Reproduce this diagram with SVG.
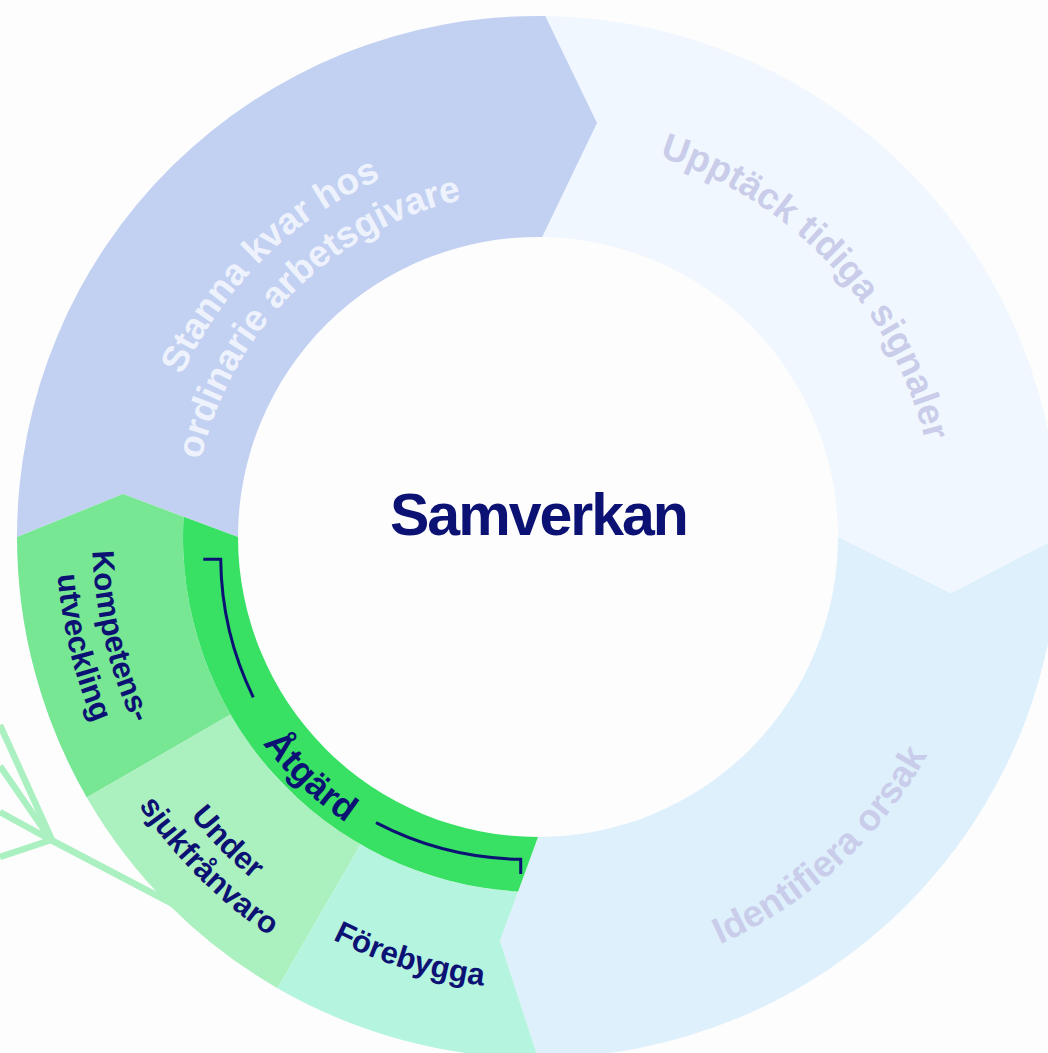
<svg xmlns="http://www.w3.org/2000/svg" xmlns:xlink="http://www.w3.org/1999/xlink" width="1048" height="1053" viewBox="0 0 1048 1053">
<style>
  text { font-family: "Liberation Sans", Arial, "Noto Sans", sans-serif; font-weight: bold; }
  .big { font-size: 37px; }
  .grn { font-size: 31px; fill: #0b1273; }
  .stanna-t { fill: #eef2fc; }
  .pale-t { fill: #c9cdea; }
  .deco { stroke: #aaf0c0; stroke-width: 6.5; fill: none; }
  .bracket { stroke: #0b1273; stroke-width: 3; fill: none; }
</style>
<defs>
  <path id="pStanna1" d="M 216.2 759.0 A 391 391 0 0 1 764.5 218.3"/>
  <path id="pStanna2" d="M 254.6 734.7 A 345.5 345.5 0 0 1 736.7 254.3"/>
  <path id="pUpptack" d="M 320.1 202.8 A 399 399 0 0 1 857.1 776.6"/>
  <path id="pIdent" d="M 265.9 890.4 A 446 446 0 0 0 914.6 298.0"/>
  <path id="pKomp1" d="M 361.6 127.4 A 446 446 0 0 0 563.7 982.2"/>
  <path id="pKomp2" d="M 345.1 95.3 A 482 482 0 0 0 568.3 1018.0"/>
  <path id="pUnder1" d="M 174.9 278.0 A 446 446 0 0 0 790.6 904.5"/>
  <path id="pUnder2" d="M 144.0 261.1 A 481 481 0 0 0 813.9 931.0"/>
  <path id="pForeb" d="M 89.4 481.9 A 452 452 0 0 0 940.7 742.2"/>
  <path id="pAtgard" d="M 251.1 347.1 A 344 344 0 0 0 742.6 813.5"/>
</defs>
<rect width="1048" height="1053" fill="#fdfdfd"/>

<g id="decoration">
  <line class="deco" x1="0" y1="725" x2="52" y2="840"/>
  <line class="deco" x1="0" y1="766" x2="51" y2="840"/>
  <line class="deco" x1="0" y1="812" x2="51" y2="840"/>
  <line class="deco" x1="51" y1="840" x2="0" y2="857"/>
  <line class="deco" x1="51" y1="840" x2="215" y2="926"/>
</g>

<g id="identifiera">
  <path d="M 1059 537 A 521 521 0 0 1 538 1058 L 500 941 L 538 837 A 300 300 0 0 0 838 537 L 951 593 Z" fill="#dff0fd"/>
  <text class="big pale-t"><textPath href="#pIdent" startOffset="50%" text-anchor="middle">Identifiera orsak</textPath></text>
</g>

<g id="upptack">
  <path d="M 545.3 16 A 521 521 0 0 1 1059 537 L 951 593 L 838 537 A 300 300 0 0 0 542.2 237 L 597 123 Z" fill="#f0f7fe"/>
  <text class="big pale-t"><textPath href="#pUpptack" startOffset="50%" text-anchor="middle">Upptäck tidiga signaler</textPath></text>
</g>

<g id="stanna">
  <path d="M 17 537 A 521 521 0 0 1 545.3 16 L 597 123 L 542.2 237 A 300 300 0 0 0 238 537 L 123 494 Z" fill="#c2d0f2"/>
  <text class="big stanna-t"><textPath href="#pStanna1" startOffset="50%" text-anchor="middle">Stanna kvar hos</textPath></text>
  <text class="big stanna-t"><textPath href="#pStanna2" startOffset="50%" text-anchor="middle">ordinarie arbetsgivare</textPath></text>
</g>

<g id="kompetensutveckling">
  <path d="M 86.8 797.5 A 521 521 0 0 1 17 537 L 123 494 L 183.6 516.7 A 355 355 0 0 0 230.6 714.5 Z" fill="#78e794"/>
  <text class="grn"><textPath href="#pKomp1" startOffset="50%" text-anchor="middle">Kompetens-</textPath></text>
  <text class="grn"><textPath href="#pKomp2" startOffset="50%" text-anchor="middle">utveckling</textPath></text>
</g>

<g id="under-sjukfranvaro">
  <path d="M 277.5 988.2 A 521 521 0 0 1 86.8 797.5 L 230.6 714.5 A 355 355 0 0 0 360.5 844.4 Z" fill="#abf0bf"/>
  <text class="grn"><textPath href="#pUnder1" startOffset="50%" text-anchor="middle">Under</textPath></text>
  <text class="grn"><textPath href="#pUnder2" startOffset="50%" text-anchor="middle">sjukfrånvaro</textPath></text>
</g>

<g id="forebygga">
  <path d="M 538 1058 A 521 521 0 0 1 277.5 988.2 L 360.5 844.4 A 355 355 0 0 0 518.1 891.4 L 500 941 Z" fill="#b5f4df"/>
  <text class="grn"><textPath href="#pForeb" startOffset="50%" text-anchor="middle">Förebygga</textPath></text>
</g>

<g id="atgard">
  <path d="M 538 837 A 300 300 0 0 1 238 537 L 183.6 516.7 A 355 355 0 0 0 518.1 891.4 Z" fill="#38e064"/>
  <text class="grn" style="font-size:36px"><textPath href="#pAtgard" startOffset="50%" text-anchor="middle">Åtgärd</textPath></text>
  <path class="bracket" d="M 203.3 559.3 L 220.7 559.3 A 322 322 0 0 0 253.3 697.3"/>
  <path class="bracket" d="M 376 822.7 A 322 322 0 0 0 520.7 859.3 L 520.7 874"/>
</g>

<g id="samverkan">
  <text x="390" y="535" style="font-size:59px; letter-spacing:-2px; fill:#0b1273">Samverkan</text>
</g>
</svg>
